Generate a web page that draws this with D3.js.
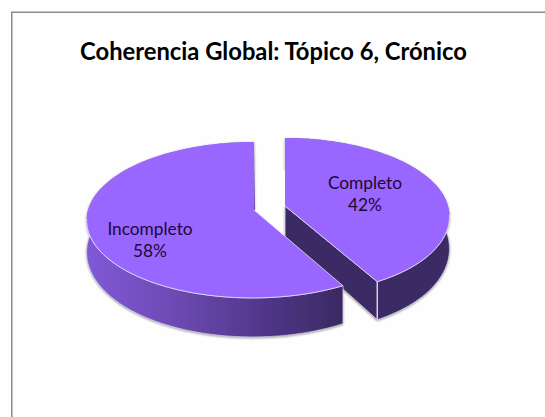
<!DOCTYPE html>
<html><head><meta charset="utf-8">
<script src="https://cdn.jsdelivr.net/npm/d3@7"></script>
<style>html,body{margin:0;padding:0;background:#fefefe}svg{display:block}</style>
</head><body>
<svg id="c" width="545" height="417"></svg>
<script>
const categories = ["Completo", "Incompleto"];
const values = [42, 58];
const valueLabels = ["42%", "58%"];
const chartTitle = "Coherencia Global: Tópico 6, Crónico";

const svg = d3.select("#c");
const W = 545, H = 417;
const Rb = 76.7, persp = 0.128;
const slices = [
  {x:285, y:206, R:163, lean:5},
  {x:254, y:210, R:166, lean:-1.5}
];
const labelPos = [{x:365,y:183},{x:150,y:229}];

svg.append("rect").attr("width",W).attr("height",H).attr("fill","#fefefe");
svg.append("path").attr("d","M11.75,417V12.25H545").attr("fill","none").attr("stroke","#8c8c8c").attr("stroke-width",1.5);

const defs = svg.append("defs");
const grad = defs.append("linearGradient").attr("id","wall").attr("gradientUnits","userSpaceOnUse")
  .attr("x1",87).attr("x2",342).attr("y1",0).attr("y2",0);
[[0,"#8059d6"],[0.35,"#6c4ab2"],[0.7,"#503688"],[1,"#3a2a62"]].forEach(s=>grad.append("stop").attr("offset",s[0]).attr("stop-color",s[1]));
const sh = defs.append("filter").attr("id","sh").attr("x","-10%").attr("y","-10%").attr("width","120%").attr("height","120%");
sh.append("feDropShadow").attr("dx",0).attr("dy",1).attr("stdDeviation",1.2).attr("flood-color","#777").attr("flood-opacity",0.75);

const arcs = d3.pie().sort(null).value(d=>d)(values);

function proj(a, angle, r, dz){
  const u = Math.sin(angle)*r, v = -Math.cos(angle)*r, s = 1/(1-persp*v);
  const vp = Math.max(v,0);
  return [a.x + a.R*u*s + a.lean*vp*vp, a.y + Rb*v*s + dz*(31+8*vp)];
}
const line = d3.line();
function rim(a, d, dz){
  const t = d3.scaleLinear().domain([0,80]).range([d.startAngle,d.endAngle]);
  return d3.range(81).map(i=>proj(a,t(i),1,dz));
}
const edge = "#e6e1f2";

function slice(i, wallFill){
  const a = slices[i], d = arcs[i], g = svg.append("g");
  const top = rim(a,d,0), bot = rim(a,d,1);
  const walls = g.append("g").attr("filter","url(#sh)");
  const end = top[top.length-1], endB = bot[bot.length-1];
  if(i===0){
    const ap0 = proj(a,0,0,0), ap1 = proj(a,0,0,1);
    walls.append("path").attr("d",line([[a.x,a.y-36],ap1,endB,end,[a.x,a.y]])+"Z").attr("fill","#3b2a63");
    walls.append("path").attr("d",line([ap0,ap1,endB,end])+"Z").attr("fill","#3b2a63").attr("stroke",edge).attr("stroke-width",0.8);
  } else {
    walls.append("path").attr("d",line([[a.x,a.y],end,[end[0]+0.5,a.y-38],[a.x+1,a.y]])+"Z").attr("fill","#6a48ae");
  }
  walls.append("path").attr("d",line(top.concat(bot.slice().reverse()))+"Z").attr("fill",wallFill).attr("stroke",edge).attr("stroke-width",0.6);
  if(i===0){
    g.append("path").attr("d",line([end,endB])).attr("stroke",edge).attr("stroke-width",1).attr("fill","none");
  }
  g.append("path").attr("d",line([[a.x,a.y]].concat(top))+"Z").attr("fill","#9966ff");
  const front = top.filter(p=>p[1] > a.y + 8);
  const cutLine = i===0 ? front.concat([[a.x,a.y]]) : [[a.x,a.y]].concat(front);
  g.append("path").attr("d",line(cutLine)).attr("fill","none").attr("stroke",edge).attr("stroke-width",0.8).attr("stroke-linejoin","round");
}
slice(0,"#3b2a63");
slice(1,"url(#wall)");

svg.append("text").attr("x",273.5).attr("y",60).attr("text-anchor","middle")
  .attr("font-family","Lato, 'Open Sans', sans-serif").attr("font-weight",700).attr("font-size",23.75).attr("fill","#000").text(chartTitle);

categories.forEach((c,i)=>{
  const t = svg.append("text").attr("text-anchor","middle").attr("font-family","Lato, 'Open Sans', sans-serif").attr("font-size",17.3).attr("fill","#1a0a33");
  t.append("tspan").attr("x",labelPos[i].x).attr("y",labelPos[i].y+5.5).text(c);
  t.append("tspan").attr("x",labelPos[i].x).attr("y",labelPos[i].y+28).text(valueLabels[i]);
});
</script>
</body></html>
